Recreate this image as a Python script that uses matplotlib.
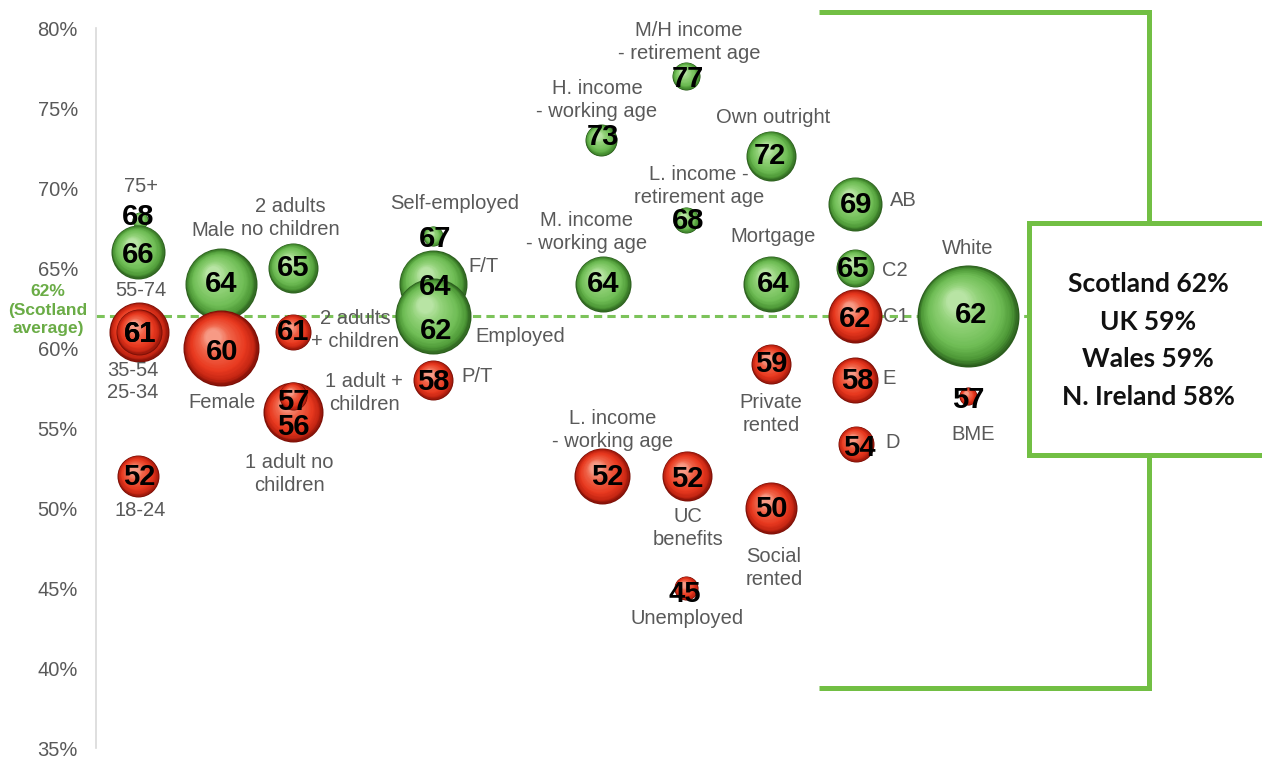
import numpy as np
import matplotlib
matplotlib.use("Agg")
import matplotlib.pyplot as plt
from matplotlib.colors import LinearSegmentedColormap
from matplotlib.lines import Line2D
from matplotlib.transforms import offset_copy

## Data: share with the outcome (%) by sub-group, bubble size ~ group size
groups = ["75+", "55-74", "35-54", "25-34", "18-24",
          "Male", "Female",
          "2 adults no children", "2 adults + children", "1 adult no children", "1 adult + children",
          "Self-employed", "F/T", "Employed", "P/T",
          "H. income - working age", "M/H income - retirement age", "M. income - working age",
          "L. income - retirement age", "L. income - working age", "UC benefits", "Unemployed",
          "Own outright", "Mortgage", "Private rented", "Social rented",
          "AB", "C2", "C1", "E", "D",
          "White", "BME"]
values = [68, 66, 61, 61, 52,
          64, 60,
          65, 61, 56, 57,
          67, 64, 62, 58,
          73, 77, 64,
          68, 52, 52, 45,
          72, 64, 59, 50,
          69, 65, 62, 58, 54,
          62, 57]
# column (horizontal slot) of every bubble
column = [140, 138, 139, 139, 138,
          221, 221,
          293, 293, 293, 293,
          433, 433, 433, 433,
          601, 686, 603,
          686, 602, 687, 686,
          771, 771, 771, 771,
          855, 855, 855, 855, 856,
          968, 968]
bubble_size = [8, 27, 30, 23, 21,
               36, 38,
               25, 18, 30, 14,
               10, 34, 38, 20,
               16, 14, 28,
               13, 28, 25, 12,
               25, 28, 20, 26,
               27, 19, 27, 23, 18,
               51, 9]
above = [1, 1, 0, 0, 0,
         1, 0,
         1, 0, 0, 0,
         1, 1, 1, 0,
         1, 1, 1,
         1, 0, 0, 0,
         1, 1, 0, 0,
         1, 1, 0, 0, 0,
         1, 0]
group_text = ["75+", "55-74", "35-54", "25-34", "18-24",
              "Male", "Female",
              "2 adults\nno children", "2 adults\n+ children", "1 adult no\nchildren", "1 adult +\nchildren",
              "Self-employed", "F/T", "Employed", "P/T",
              "H. income\n- working age", "M/H income\n- retirement age", "M. income\n- working age",
              "L. income -\nretirement age", "L. income\n- working age", "UC\nbenefits", "Unemployed",
              "Own outright", "Mortgage", "Private\nrented", "Social\nrented",
              "AB", "C2", "C1", "E", "D",
              "White", "BME"]

scotland_avg = 62
regions = ["Scotland", "UK", "Wales", "N. Ireland"]
region_values = [62, 59, 59, 58]

# label placement (pixel offsets from the bubble centre)
label_off = {
    "75+": (1, 34), "55-74": (3, -38), "35-54": (-6, -38), "25-34": (-6, -60), "18-24": (2, -35),
    "Male": (-8, 53), "Female": (1, -55),
    "2 adults no children": (-3, 50), "2 adults + children": (62, 2),
    "1 adult no children": (-4, -62), "1 adult + children": (71, 3),
    "Self-employed": (22, 33), "F/T": (51, 18), "Employed": (87, -21), "P/T": (44, 4),
    "H. income - working age": (-4, 40), "M/H income - retirement age": (3, 34),
    "M. income - working age": (-16, 52), "L. income - retirement age": (13, 34),
    "L. income - working age": (11, 46), "UC benefits": (1, -52), "Unemployed": (1, -30),
    "Own outright": (2, 39), "Mortgage": (2, 48), "Private rented": (0, -50), "Social rented": (3, -60),
    "White": (0, 68), "BME": (5, -39),
}
side_label = {"AB": (35, 4), "C2": (27, -2), "C1": (28, 0), "E": (27, 2), "D": (29, 1)}
num_off = {
    "75+": (-2, 2), "55-74": (0, -4), "35-54": (1, -3), "25-34": (1, -3), "18-24": (1, -2),
    "Male": (0, -1), "Female": (1, -5), "2 adults no children": (0, -1), "2 adults + children": (0, -1),
    "1 adult no children": (0, -16), "1 adult + children": (0, -7),
    "Self-employed": (2, -4), "F/T": (2, -4), "Employed": (3, -16), "P/T": (0, -3),
    "H. income - working age": (2, 2), "M/H income - retirement age": (2, -4),
    "M. income - working age": (0, -1), "L. income - retirement age": (2, -2),
    "L. income - working age": (5, -2), "UC benefits": (0, -4), "Unemployed": (-1, -7),
    "Own outright": (-1, -1), "Mortgage": (2, -1), "Private rented": (0, -1), "Social rented": (0, -2),
    "AB": (1, -2), "C2": (-2, -2), "C1": (0, -4), "E": (2, -2), "D": (3, -5),
    "White": (3, 0), "BME": (0, -5),
}

W, H = 1262, 758
green_cmap = LinearSegmentedColormap.from_list(
    "g", [(0, "#2b5e1d"), (0.12, "#4c9736"), (0.35, "#6fbd55"), (0.75, "#92d279"), (1, "#b8e4a4")])
red_cmap = LinearSegmentedColormap.from_list(
    "r", [(0, "#7a0f06"), (0.12, "#c22412"), (0.35, "#e8391f"), (0.75, "#f0654a"), (1, "#f79a85")])


def sphere(ax, x, y, r, cmap, z):
    n = 30
    for k in range(n):
        t = k / (n - 1)
        rr = r * (1 - 0.8 * t)
        tr = offset_copy(ax.transData, fig=ax.figure, x=-0.22 * r * t, y=0.3 * r * t, units="dots")
        ax.scatter([x], [y], s=(2 * rr * 0.72) ** 2, color=cmap(t), lw=0,
                   transform=tr, zorder=z + k * 0.005, clip_on=False)


plt.rcParams["font.family"] = ["Liberation Sans", "DejaVu Sans"]
fig = plt.figure(figsize=(W / 100, H / 100), dpi=100)
ax = fig.add_axes([96 / W, 10 / H, 934 / W, 720 / H])
ax.set_xlim(96, 1030)
ax.set_ylim(35, 80)

ax.axhline(scotland_avg, color="#7cc35a", lw=2.2, ls=(0, (2.7, 1.7)), zorder=1)

for i, g in enumerate(groups):
    cmap = green_cmap if above[i] else red_cmap
    sphere(ax, column[i], values[i], bubble_size[i], cmap, 2 + i * 0.2)

for i, g in enumerate(groups):
    dx, dy = num_off[g]
    ax.annotate(str(values[i]), (column[i], values[i]), xytext=(dx, dy + 1), textcoords="offset pixels",
                ha="center", va="center", fontsize=21, fontweight="bold", color="black",
                zorder=20, annotation_clip=False)
    if g in side_label:
        dx, dy = side_label[g]
        ax.annotate(group_text[i], (column[i], values[i]), xytext=(dx, dy), textcoords="offset pixels",
                    ha="left", va="center", fontsize=14.5, color="#595959", zorder=21)
    else:
        dx, dy = label_off[g]
        ax.annotate(group_text[i], (column[i], values[i]), xytext=(dx, dy), textcoords="offset pixels",
                    ha="center", va="center", fontsize=14.5, color="#595959", linespacing=1.25,
                    zorder=21, annotation_clip=False)

ax.annotate(f"{scotland_avg}%\n(Scotland\naverage)", (96, scotland_avg), xytext=(-48, 6),
            textcoords="offset pixels", ha="center", va="center", fontsize=12.5, fontweight="bold",
            color="#6aac46", linespacing=1.25, annotation_clip=False)

ax.set_yticks(range(35, 81, 5))
ax.set_yticklabels([f"{v}%" for v in range(35, 81, 5)])
ax.tick_params(axis="y", length=0, pad=13, labelsize=14.5, labelcolor="#595959")
ax.set_xticks([])
for s in ["top", "right", "bottom"]:
    ax.spines[s].set_visible(False)
ax.spines["left"].set_color("#d9d9d9")
ax.spines["left"].set_linewidth(1.2)


# green bracket + box on the right (figure pixels)
def fline(xs, ys):
    fig.add_artist(Line2D([x / W for x in xs], [1 - y / H for y in ys], transform=fig.transFigure,
                          color="#72bf44", lw=3.6, solid_joinstyle="miter", solid_capstyle="butt"))


fline([819, 1148.5, 1148.5], [11.5, 11.5, 223])
fline([1270, 1029, 1029, 1270], [223, 223, 455, 455])
fline([1148.5, 1148.5, 819], [455, 688, 688])

for k, (reg, v) in enumerate(zip(regions, region_values)):
    fig.text(1148 / W, 1 - (284 + k * 37.6) / H, f"{reg} {v}%", ha="center", va="center",
             fontsize=19, fontweight="bold", family=["Lato", "DejaVu Sans"], color="#111111")

fig.savefig("out.png", dpi=100)
